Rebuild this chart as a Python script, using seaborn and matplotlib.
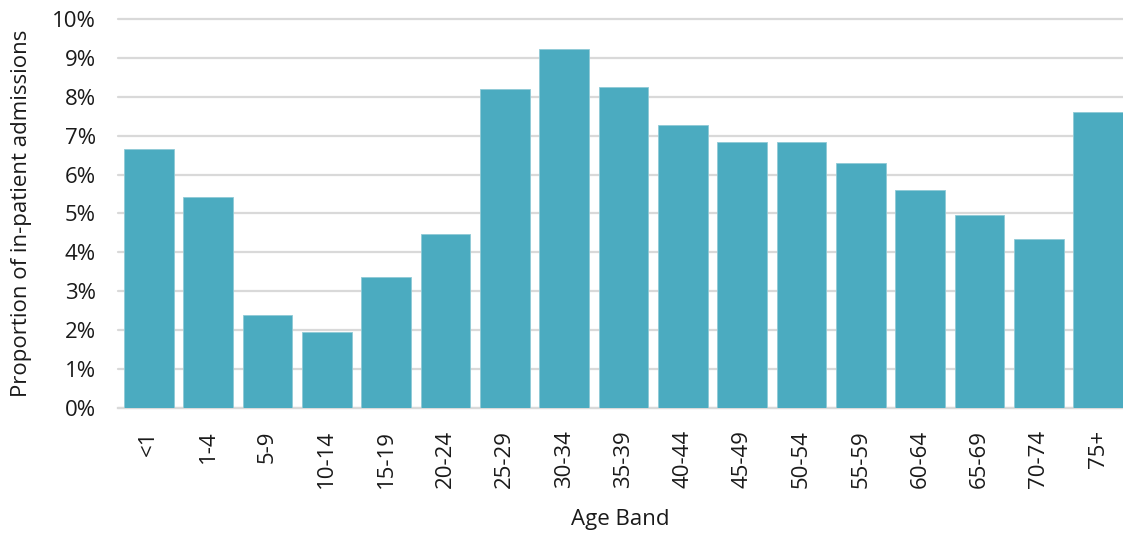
import matplotlib
matplotlib.use("Agg")
import matplotlib.pyplot as plt
import seaborn as sns
import pandas as pd
from matplotlib.ticker import PercentFormatter

age_bands = ["<1", "1-4", "5-9", "10-14", "15-19", "20-24", "25-29", "30-34",
             "35-39", "40-44", "45-49", "50-54", "55-59", "60-64", "65-69",
             "70-74", "75+"]
proportions = [6.66, 5.43, 2.38, 1.96, 3.37, 4.47, 8.21, 9.23,
               8.25, 7.27, 6.83, 6.84, 6.30, 5.60, 4.95, 4.34, 7.62]

df = pd.DataFrame({"Age Band": age_bands, "Proportion": proportions})

sns.set_theme(style="white")
plt.rcParams["font.family"] = ["Open Sans", "DejaVu Sans"]

fig = plt.figure(figsize=(11.23, 5.34), dpi=100)
ax = fig.add_axes([118 / 1123, 1 - 408 / 534, (1123 - 118) / 1123, (408 - 19) / 534])

sns.barplot(data=df, x="Age Band", y="Proportion", color="#4BABC0",
            saturation=1, width=0.84, edgecolor="#8FCAD6", linewidth=0.6,
            ax=ax, zorder=3)

ax.set_ylim(0, 10)
ax.set_yticks(range(0, 11))
ax.yaxis.set_major_formatter(PercentFormatter(decimals=0))
ax.set_xlim(-0.52, 16.42)

ax.grid(axis="y", color="#D9D9D9", linewidth=1.6, zorder=0)
for gl in ax.get_ygridlines():
    gl.set_clip_on(False)
for s in ["top", "right", "left"]:
    ax.spines[s].set_visible(False)
ax.spines["bottom"].set_color("#D9D9D9")
ax.spines["bottom"].set_linewidth(1.6)

fs = 16
ax.tick_params(axis="y", labelsize=fs, length=0, pad=16)
ax.tick_params(axis="x", labelsize=fs, length=0, pad=16, labelrotation=90)
for lbl in ax.get_yticklabels() + ax.get_xticklabels():
    lbl.set_color("#1a1a1a")

ax.set_xlabel("Age Band", fontsize=fs, color="#1a1a1a")
ax.set_ylabel("Proportion of in-patient admissions", fontsize=fs,
              color="#1a1a1a")
ax.xaxis.set_label_coords(0.5, -(519 - 408) / 389, transform=ax.transAxes)
ax.xaxis.label.set_va("center")
ax.yaxis.set_label_coords(-(118 - 22) / 1005, 0.5, transform=ax.transAxes)
ax.yaxis.label.set_va("center")

fig.savefig("out.png", dpi=100, facecolor="white")
